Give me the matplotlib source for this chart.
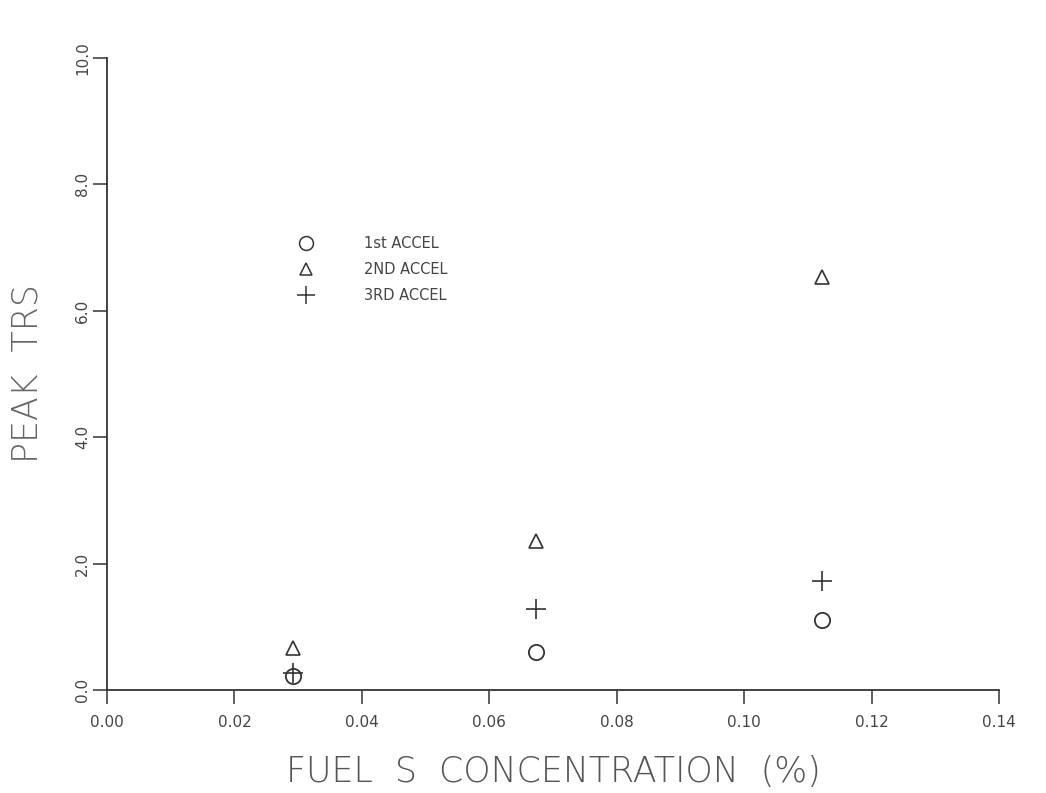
import matplotlib
matplotlib.use("Agg")
import matplotlib.pyplot as plt
from matplotlib.lines import Line2D

# Data
fuel_s = [0.0292, 0.0673, 0.1122]
accel1 = [0.22, 0.60, 1.11]
accel2 = [0.66, 2.36, 6.53]
accel3 = [0.27, 1.28, 1.72]
series_labels = ["1st ACCEL", "2ND ACCEL", "3RD ACCEL"]
xticks = [0.00, 0.02, 0.04, 0.06, 0.08, 0.10, 0.12, 0.14]
yticks = [0.0, 2.0, 4.0, 6.0, 8.0, 10.0]

ink = "#333333"
fig = plt.figure(figsize=(10.46, 7.93), dpi=100)
ax = fig.add_axes([0.1023, 0.1299, 0.8527, 0.797])

ax.plot(fuel_s, accel1, linestyle="none", marker="o", markersize=11,
        markerfacecolor="none", markeredgecolor=ink, markeredgewidth=1.3)
ax.plot(fuel_s, accel2, linestyle="none", marker="^", markersize=10,
        markerfacecolor="none", markeredgecolor=ink, markeredgewidth=1.2)
ax.plot(fuel_s, accel3, linestyle="none", marker="+", markersize=15,
        markeredgecolor=ink, markeredgewidth=1.2)

ax.set_xlim(0, 0.14)
ax.set_ylim(0, 10)
ax.set_xticks(xticks)
ax.set_xticklabels([f"{v:.2f}" for v in xticks])
ax.set_yticks(yticks)
ax.set_yticklabels([f"{v:.1f}" for v in yticks], rotation=90, va="center")

for s in ["top", "right"]:
    ax.spines[s].set_visible(False)
for s in ["left", "bottom"]:
    ax.spines[s].set_color(ink)
    ax.spines[s].set_linewidth(1.3)

ax.tick_params(axis="both", direction="out", length=10, width=1.1, color=ink,
               labelcolor="#444444", labelsize=11)
ax.tick_params(axis="x", pad=8)
ax.tick_params(axis="y", pad=2)

ax.set_xlabel("FUEL  S  CONCENTRATION  (%)", fontsize=25, color="#555555",
              labelpad=18, fontweight="light")
ax.set_ylabel("PEAK  TRS", fontsize=25, color="#666666", labelpad=22,
              fontweight="light")

handles = [
    Line2D([], [], linestyle="none", marker="o", markersize=10,
           markerfacecolor="none", markeredgecolor=ink, markeredgewidth=1.1),
    Line2D([], [], linestyle="none", marker="^", markersize=9,
           markerfacecolor="none", markeredgecolor=ink, markeredgewidth=1.1),
    Line2D([], [], linestyle="none", marker="+", markersize=13,
           markeredgecolor=ink, markeredgewidth=1.1),
]
leg = ax.legend(handles, series_labels, loc="upper left",
                bbox_to_anchor=(0.2, 0.727), frameon=False, fontsize=10.5,
                handletextpad=3.0, labelspacing=0.75, borderaxespad=0)
for t in leg.get_texts():
    t.set_color("#444444")

fig.savefig("out.png", dpi=100)
